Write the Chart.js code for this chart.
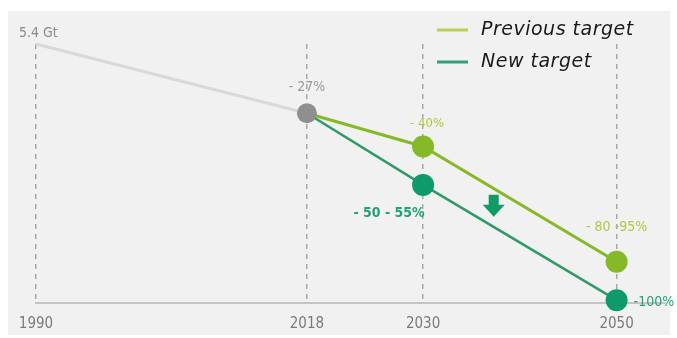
<!DOCTYPE html>
<html>
<head>
<meta charset="utf-8">
<title>Emission targets</title>
<script src="https://cdn.jsdelivr.net/npm/chart.js@4/dist/chart.umd.min.js"></script>
<style>
  html, body { margin: 0; padding: 0; background: #fff; }
  #wrap { width: 677px; height: 338px; }
</style>
</head>
<body>
<div id="wrap"><canvas id="targets" width="677" height="338"></canvas></div>
<script>
// emissions in Gt, 1990 baseline 5.4
const years = [1990, 2018, 2030, 2050];
const historic = [5.4, 3.94];
const previousTarget = [3.94, 3.24, 0.81];
const newTarget = [3.94, 2.43, 0];
const historicLabels = ["5.4 Gt", "- 27%"];
const previousLabels = ["", "- 40%", "- 80 -95%"];
const newLabels = ["", "- 50 - 55%", "-100%"];
const legendNames = ["Previous target", "New target"];

const GREY = "#8f8f8f";
const LIME = "#86b928";
const LIME_TEXT = "#aec944";
const TEAL = "#0e9a6b";
const TEAL_TEXT = "#22a07c";
const NUM_FONT = '"DejaVu Sans Condensed", "Liberation Sans Narrow", Roboto, sans-serif';

function pts(xs, ys) {
  return ys.map((y, i) => ({ x: xs[i], y: y }));
}

// light grey panel behind the plot
const panel = {
  id: "panel",
  beforeDraw(chart) {
    const ctx = chart.ctx;
    ctx.save();
    ctx.fillStyle = "#f1f1f1";
    ctx.fillRect(8, 11, 662, 324);
    ctx.restore();
  }
};

// value labels, legend and the arrow
const annotations = {
  id: "annotations",
  afterDatasetsDraw(chart) {
    const ctx = chart.ctx;
    const xs = chart.scales.x, ys = chart.scales.y;
    const px = v => xs.getPixelForValue(v);
    const py = v => ys.getPixelForValue(v);
    ctx.save();
    ctx.textBaseline = "middle";

    // 1990 / 2018
    ctx.fillStyle = "#8a8a8a";
    ctx.font = "14px " + NUM_FONT;
    ctx.textAlign = "left";
    ctx.fillText(historicLabels[0], 19, 33);
    ctx.fillStyle = "#9a9a9a";
    ctx.textAlign = "center";
    ctx.fillText(historicLabels[1], px(years[1]), py(historic[1]) - 26);

    // previous target
    ctx.fillStyle = LIME_TEXT;
    ctx.font = "13px " + NUM_FONT;
    ctx.fillText(previousLabels[1], px(years[2]) + 4, py(previousTarget[1]) - 23);
    ctx.font = "14px " + NUM_FONT;
    ctx.fillText(previousLabels[2], px(years[3]), py(previousTarget[2]) - 34);

    // new target
    ctx.fillStyle = TEAL_TEXT;
    ctx.font = "bold 14px " + NUM_FONT;
    ctx.fillText(newLabels[1], px(years[2]) - 34, py(newTarget[1]) + 28);
    ctx.textAlign = "left";
    ctx.font = "14px " + NUM_FONT;
    ctx.fillText(newLabels[2], px(years[3]) + 17, py(newTarget[2]) + 2);

    // down arrow between the two target lines
    const ax = px(2037.3), ay = py(1.99);
    ctx.fillStyle = "#0f9a66";
    ctx.beginPath();
    ctx.moveTo(ax - 5, ay - 11);
    ctx.lineTo(ax + 5, ay - 11);
    ctx.lineTo(ax + 5, ay - 1);
    ctx.lineTo(ax + 11, ay - 1);
    ctx.lineTo(ax, ay + 11);
    ctx.lineTo(ax - 11, ay - 1);
    ctx.lineTo(ax - 5, ay - 1);
    ctx.closePath();
    ctx.fill();

    // legend
    const legendColors = ["#b9cf55", "#2f9f7e"];
    ctx.font = "oblique 19px 'DejaVu Sans', sans-serif";
    ctx.letterSpacing = "0.5px";
    ctx.textAlign = "left";
    legendNames.forEach((name, i) => {
      const y = 30 + i * 32;
      ctx.strokeStyle = legendColors[i];
      ctx.lineWidth = 3;
      ctx.beginPath();
      ctx.moveTo(437, y);
      ctx.lineTo(468, y);
      ctx.stroke();
      ctx.fillStyle = "#1a1a1a";
      ctx.fillText(name, 481, y);
    });
    ctx.restore();
  }
};

new Chart(document.getElementById("targets"), {
  type: "line",
  data: {
    datasets: [
      {
        label: "1990-2018",
        data: pts(years, historic),
        borderColor: "#d9d9d9",
        borderWidth: 3,
        pointRadius: [0, 10],
        pointBackgroundColor: GREY,
        pointBorderWidth: 0,
        order: 0
      },
      {
        label: legendNames[0],
        data: pts(years.slice(1), previousTarget),
        borderColor: LIME,
        borderWidth: 3,
        pointRadius: [0, 11, 11],
        pointBackgroundColor: LIME,
        pointBorderWidth: 0,
        order: 1
      },
      {
        label: legendNames[1],
        data: pts(years.slice(1), newTarget),
        borderColor: "#2f9a68",
        borderWidth: 2.5,
        pointRadius: [0, 11, 11],
        pointBackgroundColor: TEAL,
        pointBorderWidth: 0,
        order: 2
      }
    ]
  },
  options: {
    responsive: false,
    animation: false,
    clip: false,
    layout: { padding: { left: 36, right: 12, top: 44, bottom: 0 } },
    plugins: {
      legend: { display: false },
      tooltip: { enabled: false }
    },
    scales: {
      x: {
        type: "linear",
        min: 1990,
        max: 2055,
        afterBuildTicks(scale) {
          scale.ticks = years.map(v => ({ value: v }));
        },
        afterFit(scale) {
          scale.height = 35;
        },
        grid: {
          color: "#a8a8a8",
          lineWidth: 1.5,
          drawTicks: false
        },
        border: { display: true, color: "#c4c4c4", width: 2, dash: [5, 5] },
        ticks: {
          padding: 12,
          color: "#7a7a7a",
          font: { family: NUM_FONT, size: 15 },
          autoSkip: false,
          maxRotation: 0,
          callback: v => String(v)
        }
      },
      y: {
        display: false,
        min: -0.06,
        max: 5.4
      }
    }
  },
  plugins: [panel, annotations]
});
</script>
</body>
</html>
